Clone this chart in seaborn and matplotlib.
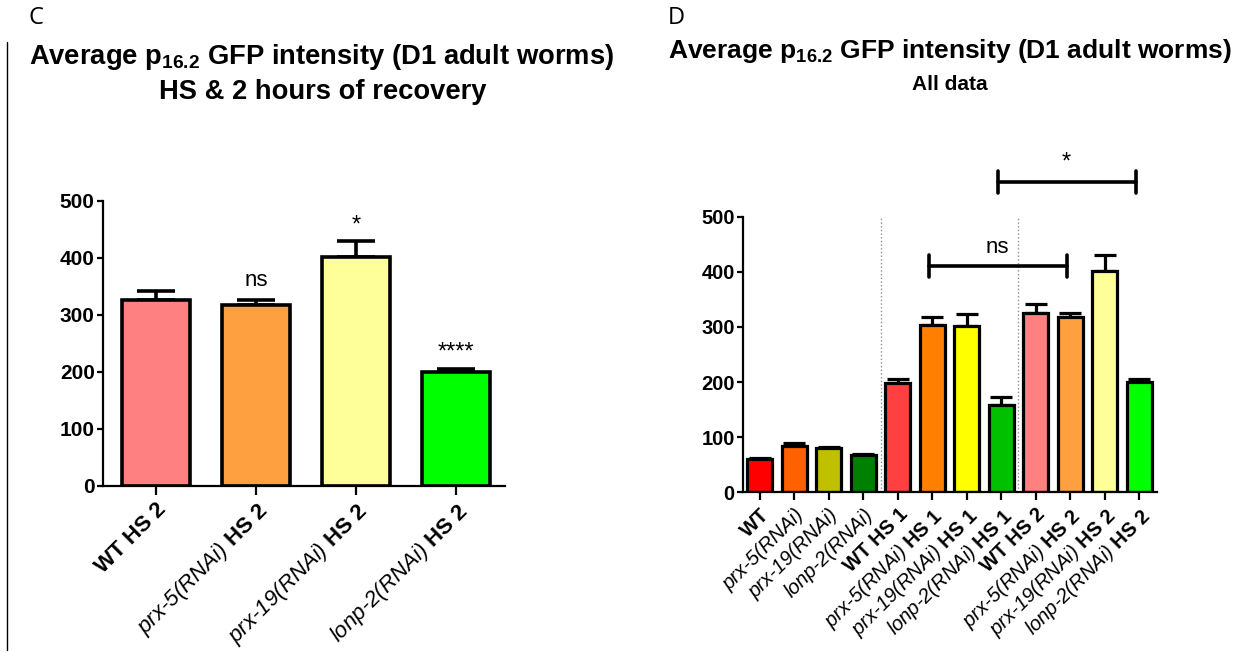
import matplotlib
matplotlib.use("Agg")
import matplotlib.pyplot as plt
from matplotlib.lines import Line2D
import seaborn as sns

# ---- data -------------------------------------------------------------
c_labels = ["WT HS 2", "prx-5(RNAi) HS 2", "prx-19(RNAi) HS 2", "lonp-2(RNAi) HS 2"]
c_means = [326, 318, 402, 200]
c_sem = [16, 8, 28, 6]
c_marks = ["", "ns", "*", "****"]
c_colors = ["#FF8080", "#FFA040", "#FFFF99", "#00FF00"]

d_labels = ["WT", "prx-5(RNAi)", "prx-19(RNAi)", "lonp-2(RNAi)",
            "WT HS 1", "prx-5(RNAi) HS 1", "prx-19(RNAi) HS 1", "lonp-2(RNAi) HS 1",
            "WT HS 2", "prx-5(RNAi) HS 2", "prx-19(RNAi) HS 2", "lonp-2(RNAi) HS 2"]
d_means = [60, 84, 80, 68, 198, 304, 302, 158, 326, 318, 402, 200]
d_sem = [3, 6, 3, 2, 8, 14, 22, 15, 16, 8, 28, 6]
d_colors = ["#FF0000", "#FF6000", "#C0C000", "#008000",
            "#FF4040", "#FF8000", "#FFFF00", "#00C000",
            "#FF8080", "#FFA040", "#FFFF99", "#00FF00"]
# (left index, right index, label, bracket height) comparisons above panel D
d_brackets = [(5, 9, "ns", 410), (7, 11, "*", 563)]

yticks = [0, 100, 200, 300, 400, 500]

# ---- style ------------------------------------------------------------
sns.set_style("ticks")
plt.rcParams["font.family"] = ["Liberation Sans", "DejaVu Sans"]
plt.rcParams["mathtext.fontset"] = "custom"
plt.rcParams["mathtext.rm"] = "Liberation Sans"
plt.rcParams["mathtext.it"] = "Liberation Sans:italic"
plt.rcParams["mathtext.bf"] = "Liberation Sans:bold"
for key in ("text.color", "axes.labelcolor", "xtick.color", "ytick.color", "axes.edgecolor"):
    plt.rcParams[key] = "black"

fig = plt.figure(figsize=(12.42, 6.61), dpi=100)


def tick_text(label):
    """Gene names in italics, strain / condition in bold."""
    if "RNAi" in label:
        gene, _, rest = label.partition(" ")
        if rest:
            return gene + " " + r"$\mathbf{" + rest.replace(" ", r"\ ") + "}$", "italic", "normal"
        return gene, "italic", "normal"
    return label, "normal", "bold"


def draw_panel(ax, labels, means, sem, colors, width, edge_lw, capsize,
               tick_fs, ytick_fs, xtick_len, ytick_len):
    sns.barplot(x=labels, y=means, hue=labels, palette=colors, legend=False,
                edgecolor="black", linewidth=edge_lw, width=width,
                errorbar=None, saturation=1, ax=ax, zorder=2)
    ax.errorbar(range(len(labels)), means, yerr=[[0] * len(sem), sem],
                fmt="none", ecolor="black", elinewidth=edge_lw,
                capsize=capsize, capthick=edge_lw, zorder=1)
    ax.set_ylim(0, 500)
    ax.set_yticks(yticks)
    ax.set_yticklabels([str(t) for t in yticks], fontsize=ytick_fs, fontweight="bold")
    ax.set_xticks(range(len(labels)))
    texts = [tick_text(l) for l in labels]
    ax.set_xticklabels([t[0] for t in texts], rotation=45, ha="right",
                       rotation_mode="anchor", fontsize=tick_fs)
    for tl, (_, st, wt) in zip(ax.get_xticklabels(), texts):
        tl.set_fontstyle(st)
        tl.set_fontweight(wt)
    ax.set_xlabel("")
    ax.set_ylabel("")
    sns.despine(ax=ax)
    for s in ("left", "bottom"):
        ax.spines[s].set_linewidth(1.6)
    ax.tick_params(axis="x", length=xtick_len, width=1.6, pad=3)
    ax.tick_params(axis="y", length=ytick_len, width=1.6, pad=2)


# ---- panel C ----------------------------------------------------------
axC = fig.add_axes([0.0829, 0.2648, 0.3237, 0.4312])
draw_panel(axC, c_labels, c_means, c_sem, c_colors, width=0.68, edge_lw=2.6,
           capsize=14, tick_fs=16, ytick_fs=15, xtick_len=6.5, ytick_len=4)
axC.set_xlim(-0.53, 3.49)
for i, (m, s, mark) in enumerate(zip(c_means, c_sem, c_marks)):
    if mark == "ns":
        axC.text(i, m + s + 16, mark, ha="center", va="bottom", fontsize=16, clip_on=False)
    elif mark:
        axC.text(i, m + s + 8, mark, ha="center", va="bottom", fontsize=17, clip_on=False)

# ---- panel D ----------------------------------------------------------
axD = fig.add_axes([0.5982, 0.2552, 0.3334, 0.4169])
draw_panel(axD, d_labels, d_means, d_sem, d_colors, width=0.72, edge_lw=2.3,
           capsize=8, tick_fs=14.5, ytick_fs=14.5, xtick_len=6, ytick_len=4)
axD.set_xlim(-0.49, 11.52)
for xv in (3.5, 7.5):
    axD.plot([xv, xv], [0, 500], color="#909090", lw=1.0, ls=":", zorder=0)
for a, b, mark, yb in d_brackets:
    x0, x1 = a - 0.1, b - 0.1
    axD.plot([x0, x1], [yb, yb], color="black", lw=2.6, clip_on=False)
    axD.plot([x0, x0], [yb - 20, yb + 20], color="black", lw=2.6, clip_on=False)
    axD.plot([x1, x1], [yb - 20, yb + 20], color="black", lw=2.6, clip_on=False)
    fs = 16 if mark == "ns" else 17
    axD.text((x0 + x1) / 2, yb + 16, mark,
             ha="center", va="bottom", fontsize=fs, clip_on=False)

# ---- titles and panel letters -----------------------------------------
title1 = r"Average p$_{\mathbf{16.2}}$ GFP intensity (D1 adult worms)"
fig.text(28 / 1242, 1 - 18 / 661, "C", fontsize=17, family=["Open Sans", "DejaVu Sans"],
         ha="left", va="center")
fig.text(668 / 1242, 1 - 18 / 661, "D", fontsize=17, family=["Open Sans", "DejaVu Sans"],
         ha="left", va="center")
fig.text(322 / 1242, 1 - 57 / 661, title1, fontsize=19.7, fontweight="bold",
         ha="center", va="center")
fig.text(323 / 1242, 1 - 92 / 661, "HS & 2 hours of recovery", fontsize=19.7,
         fontweight="bold", ha="center", va="center")
fig.text(950 / 1242, 1 - 51 / 661, title1, fontsize=19, fontweight="bold",
         ha="center", va="center")
fig.text(950 / 1242, 1 - 84 / 661, "All data", fontsize=15, fontweight="bold",
         ha="center", va="center")

# thin rule along the left margin
fig.add_artist(Line2D([7 / 1242, 7 / 1242], [1 - 650 / 661, 1 - 42 / 661],
                      color="black", lw=1.0))

fig.savefig("out.png", dpi=100)
